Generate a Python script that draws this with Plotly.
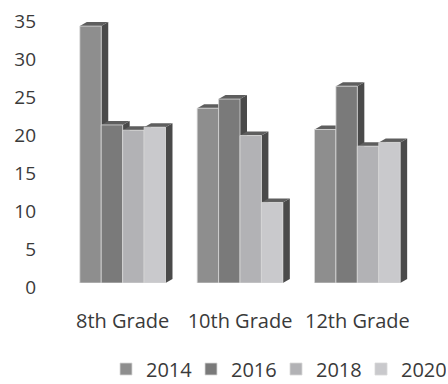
import plotly.graph_objects as go

# Survey results by grade and year
grades = ["8th Grade", "10th Grade", "12th Grade"]
years = ["2014", "2016", "2018", "2020"]
v2014 = [33.8, 23.0, 20.2]
v2016 = [20.8, 24.2, 25.9]
v2018 = [20.1, 19.4, 18.0]
v2020 = [20.5, 10.6, 18.5]
y_ticks = [0, 5, 10, 15, 20, 25, 30, 35]

series = [v2014, v2016, v2018, v2020]
front_colors = ["#8e8e8e", "#7a7a7a", "#b2b2b5", "#c9c9cc"]
side_color = "#4a4a4a"
top_color = "#5e5e5e"

W, H = 448, 384
ML, MR, MT, MB = 64, 32, 17, 101
BARGAP = 0.27
Y_MAX = 35

fig = go.Figure()
for name, vals, col in zip(years, series, front_colors):
    fig.add_trace(go.Bar(
        x=grades, y=vals, name=name,
        marker=dict(color=col, line=dict(color="#d8d8d8", width=0.8)),
    ))

# Depth of the pseudo-3D columns, converted from pixels into axis units
plot_w = W - ML - MR
plot_h = H - MT - MB
ddx = 7 / (plot_w / len(grades))
ddy = 4 / (plot_h / Y_MAX)

group_w = 1 - BARGAP
bw = group_w / len(series)
sides, tops = [], []
for i, vals in enumerate(series):
    off = -group_w / 2 + i * bw
    for j, v in enumerate(vals):
        xl = j + off
        xr = xl + bw
        sides.append(dict(
            type="path", xref="x", yref="y", layer="below",
            path=f"M {xr},0 L {xr + ddx},{ddy} L {xr + ddx},{v + ddy} L {xr},{v} Z",
            fillcolor=side_color, line=dict(width=0),
        ))
        tops.append(dict(
            type="path", xref="x", yref="y", layer="below",
            path=f"M {xl},{v} L {xr},{v} L {xr + ddx},{v + ddy} L {xl + ddx},{v + ddy} Z",
            fillcolor=top_color, line=dict(width=0),
        ))

fig.update_layout(
    width=W, height=H,
    margin=dict(l=ML, r=MR, t=MT, b=MB, pad=0, autoexpand=False),
    barmode="group", bargap=BARGAP, bargroupgap=0,
    paper_bgcolor="white", plot_bgcolor="white",
    font=dict(family="Open Sans", size=20, color="#3a3a3a"),
    shapes=sides + tops,
    showlegend=True,
    legend=dict(
        orientation="h", xref="container", yref="container",
        x=106 / W, xanchor="left", y=1 - 369 / H, yanchor="middle",
        font=dict(size=20, color="#3a3a3a"), traceorder="normal",
        itemwidth=30, entrywidth=40, entrywidthmode="pixels",
    ),
)
fig.update_xaxes(
    type="category", range=[-0.5, 2.5], showgrid=False, showline=False,
    zeroline=False, ticks="", ticklabelstandoff=24,
    tickfont=dict(size=20),
)
fig.update_yaxes(
    range=[0, Y_MAX], tickvals=y_ticks, showgrid=False, showline=False,
    zeroline=False, ticks="", ticklabelstandoff=27, ticklabelshift=4,
    ticklabeloverflow="allow", tickfont=dict(size=19),
)

fig.write_html("out.html")
